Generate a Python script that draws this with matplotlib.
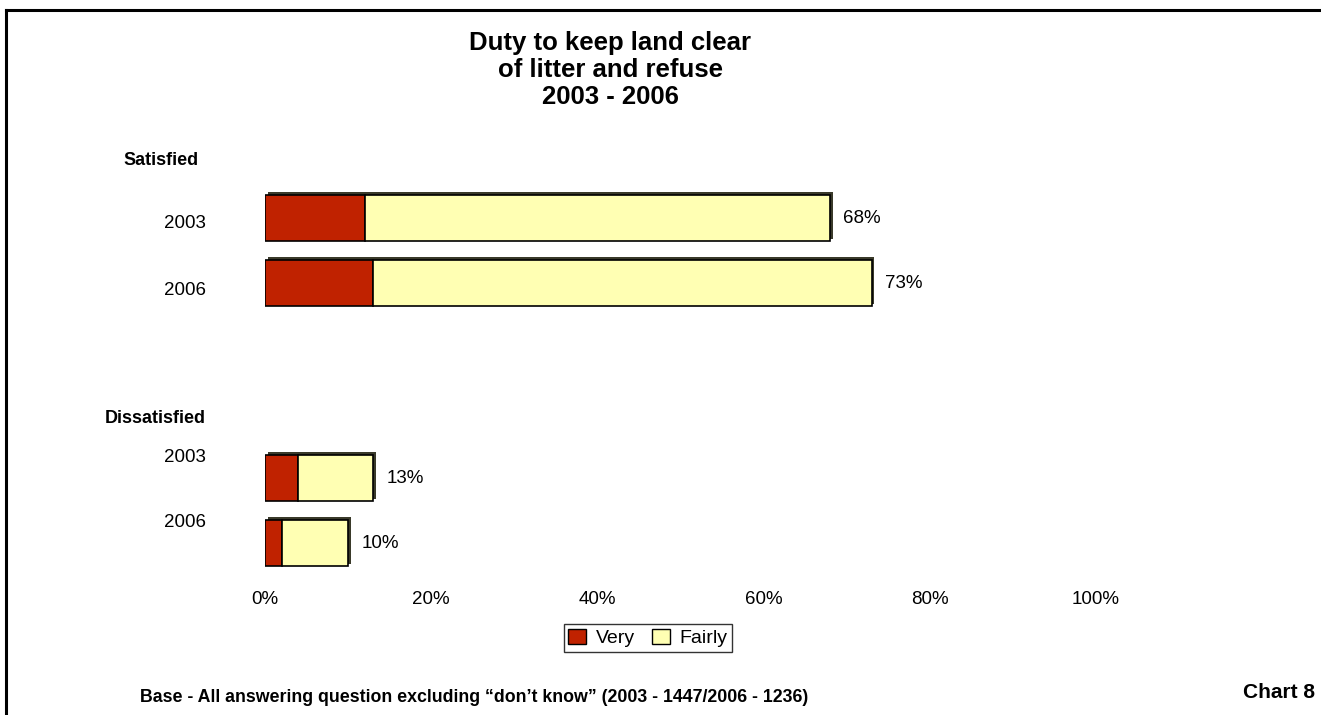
import numpy as np
import matplotlib
matplotlib.use("Agg")
import matplotlib.pyplot as plt
import matplotlib.patheffects as pe
from matplotlib.patches import Patch
from matplotlib.lines import Line2D

plt.rcParams['font.family'] = ['Liberation Sans', 'DejaVu Sans']

# survey results, percent
groups = ["Satisfied", "Dissatisfied"]
years = ["2003", "2006"]
very = [12, 13, 4, 2]
fairly = [56, 60, 9, 8]
xticks = [0, 20, 40, 60, 80, 100]

very_col = "#C02200"
fairly_col = "#FFFFB3"

W, H = 1321, 715
fig = plt.figure(figsize=(W / 100, H / 100), dpi=100)

# axes placed in pixel terms: 0% at x=265, 100% at x=1096
ax = fig.add_axes([265 / W, 1 - 580 / H, (1096 - 265) / W, 450 / H])
ax.set_xlim(0, 100)
ax.set_ylim(5.569, -1.354)

rows = np.array([0, 1, 4, 5])
height = 0.71
shadow = [pe.SimplePatchShadow(offset=(1.8, 1.8), shadow_rgbFace="#3a3a2a", alpha=1.0), pe.Normal()]

very_a = np.array(very)
fairly_a = np.array(fairly)
total = very_a + fairly_a

b1 = ax.barh(rows, very_a, height=height, color=very_col, edgecolor="black", linewidth=1.2)
b2 = ax.barh(rows, fairly_a, left=very_a, height=height, color=fairly_col,
             edgecolor="black", linewidth=1.2)
for bar in list(b2) + list(b1):
    bar.set_path_effects(shadow)

for r, t in zip(rows, total):
    ax.text(t + 1.6, r, "%d%%" % t, ha="left", va="center", fontsize=13.5)

# row labels on the left
label_shift = [0.09, 0.11, -0.32, -0.32]
for i, r in enumerate(rows):
    ax.text(-7.1, r + label_shift[i], years[i % 2], ha="right", va="center",
            fontsize=13.5, clip_on=False)
header_rows = [-0.89, 3.08]
header_x = [-8.0, -7.1]
for g, hr, hx in zip(groups, header_rows, header_x):
    ax.text(hx, hr, g, ha="right", va="center", fontsize=13, fontweight="bold",
            clip_on=False)

ax.set_xticks(xticks)
ax.set_xticklabels(["%d%%" % v for v in xticks], fontsize=13.5)
ax.tick_params(axis="x", length=0, pad=8)
ax.set_yticks([])
for s in ax.spines.values():
    s.set_visible(False)

fig.text(610 / W, 1 - 70 / H, "Duty to keep land clear\nof litter and refuse\n2003 - 2006",
         ha="center", va="center", fontsize=18.5, fontweight="bold", linespacing=1.18)

handles = [Patch(facecolor=very_col, edgecolor="black", label="Very"),
           Patch(facecolor=fairly_col, edgecolor="black", label="Fairly")]
leg = fig.legend(handles=handles, loc="center", bbox_to_anchor=(648 / W, 1 - 638 / H),
                 ncol=2, fontsize=14, frameon=True, fancybox=False, edgecolor="black",
                 handlelength=0.9, handleheight=0.8, handletextpad=0.5, columnspacing=0.9,
                 borderpad=0.25, borderaxespad=0)
leg.get_frame().set_linewidth(1.0)

fig.text(140 / W, 1 - 697 / H,
         "Base - All answering question excluding \u201cdon\u2019t know\u201d (2003 - 1447/2006 - 1236)",
         ha="left", va="center", fontsize=12.8, fontweight="bold")
fig.text(1315 / W, 1 - 692 / H, "Chart 8", ha="right", va="center", fontsize=15,
         fontweight="bold")

# outer frame (left and top edges visible)
fig.add_artist(Line2D([6 / W, 6 / W], [0, 1 - 10 / H], transform=fig.transFigure,
                      color="black", linewidth=2.2))
fig.add_artist(Line2D([6 / W, 1], [1 - 10 / H, 1 - 10 / H], transform=fig.transFigure,
                      color="black", linewidth=2.2))

fig.savefig("out.png", dpi=100)
